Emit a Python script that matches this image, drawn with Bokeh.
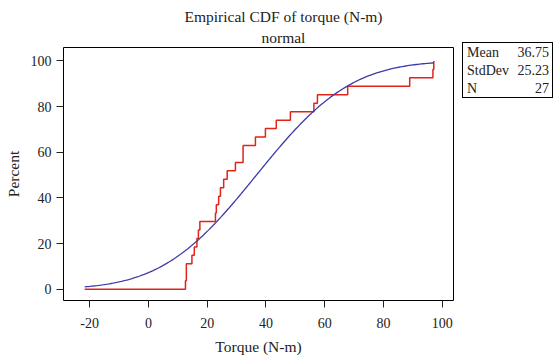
import math
import numpy as np
from bokeh.plotting import figure
from bokeh.layouts import row
from bokeh.models import FixedTicker, Title, Div
from bokeh.embed import file_html
from bokeh.resources import INLINE

# ---- data ----
torque = [12.6, 12.9, 12.9, 14.8, 15.6, 16.5, 17.0, 17.5, 22.8, 23.1, 23.9, 24.5,
          25.6, 26.8, 29.6, 32.2, 32.2, 36.4, 39.8, 43.5, 48.3, 56.3, 57.5, 67.8,
          88.9, 96.8, 97.1]
mean_val = 36.75
sd_val = 25.23
n_val = 27
curve_x_min = -21.7
x_ticks = [-20, 0, 20, 40, 60, 80, 100]
y_ticks = [0, 20, 40, 60, 80, 100]
stat_names = ["Mean", "StdDev", "N"]
stat_values = ["36.75", "25.23", "27"]
title_text = "Empirical CDF of torque (N-m)"
subtitle_text = "normal"

FONT = "Liberation Serif"
RED = "#E2231A"
BLUE = "#3C3CAA"
TXT = "#222222"

PW, H = 462, 358
FL, FR, FT, FB = 63, 453, 47, 300          # frame edges in pixels

p = figure(width=PW, height=H, x_range=(-28.9, 103.8), y_range=(-4.96, 105.9),
           output_backend="svg", toolbar_location=None, margin=(0, 0, 0, 0),
           min_border_left=FL, min_border_right=PW - FR, min_border_top=FT,
           min_border_bottom=H - FB)
p.outline_line_color = "black"
p.outline_line_width = 1
p.xgrid.visible = False
p.ygrid.visible = False
p.background_fill_color = "white"
p.border_fill_color = "white"

# empirical CDF steps
xs = sorted(torque)
step_x = [curve_x_min] + xs
step_y = [0.0] + [100.0 * (i + 1) / n_val for i in range(len(xs))]
p.step(x=step_x, y=step_y, mode="after", line_color=RED, line_width=1.5)

# fitted normal CDF from the displayed mean / stdev
cx = np.linspace(curve_x_min, max(torque), 200)
cy = [50.0 * (1 + math.erf((v - mean_val) / (sd_val * math.sqrt(2)))) for v in cx]
p.line(cx, cy, line_color=BLUE, line_width=1.3)

for ax in (p.xaxis[0], p.yaxis[0]):
    ax.axis_line_color = None
    ax.major_tick_in = 0
    ax.major_tick_out = 7
    ax.major_tick_line_color = TXT
    ax.minor_tick_line_color = None
    ax.major_label_text_font = FONT
    ax.major_label_text_font_size = "14px"
    ax.major_label_text_color = TXT
    ax.axis_label_text_font = FONT
    ax.axis_label_text_font_size = "15.5px"
    ax.axis_label_text_font_style = "normal"
    ax.axis_label_text_color = TXT

p.xaxis.ticker = FixedTicker(ticks=x_ticks)
p.yaxis.ticker = FixedTicker(ticks=y_ticks)
p.xaxis.major_label_overrides = {t: str(t) for t in x_ticks}
p.yaxis.major_label_overrides = {t: str(t) for t in y_ticks}
p.xaxis.axis_label = "Torque (N-m)"
p.yaxis.axis_label = "Percent"
p.xaxis.major_label_standoff = 10
p.yaxis.major_label_standoff = 5
p.xaxis.axis_label_standoff = 7
p.yaxis.axis_label_standoff = 6

# titles (nearest the frame first)
p.add_layout(Title(text=subtitle_text, align="left", offset=198, standoff=3,
                   text_font=FONT, text_font_size="15.5px", text_font_style="normal",
                   text_color=TXT), "above")
p.add_layout(Title(text=title_text, align="left", offset=121, standoff=2,
                   text_font=FONT, text_font_size="15.5px", text_font_style="normal",
                   text_color=TXT), "above")

# statistics box
rows_html = "".join(
    f'<div style="display:flex;justify-content:space-between;height:18px;line-height:18px;">'
    f'<span>{nm}</span><span>{vl}</span></div>'
    for nm, vl in zip(stat_names, stat_values))
stats = Div(width=557 - PW, height=H, margin=(0, 0, 0, 0),
            text=f'<div style="margin:42px 0 0 0;width:91px;height:56px;box-sizing:border-box;'
                 f'border:1px solid #000;padding:1px 3px 0 4px;font-family:\'{FONT}\';'
                 f'font-size:14px;color:{TXT};background:#fff;">{rows_html}</div>')

layout = row(p, stats, spacing=0)
open("out.html", "w").write(file_html(layout, INLINE))
